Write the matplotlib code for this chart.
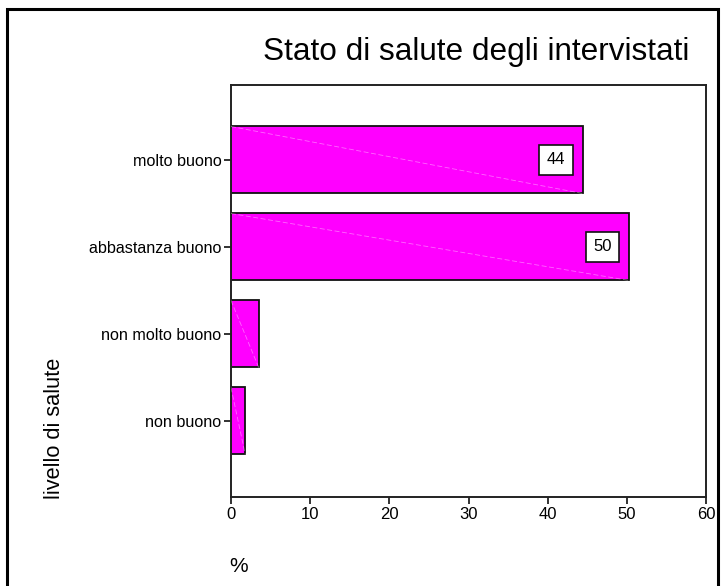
import matplotlib
matplotlib.use("Agg")
import matplotlib.pyplot as plt
from matplotlib.patches import Rectangle

# Survey results: self-reported health level (% of respondents)
categories = ["molto buono", "abbastanza buono", "non molto buono", "non buono"]
values = [44.4, 50.3, 3.5, 1.8]
labelled = [True, True, False, False]
x_ticks = [0, 10, 20, 30, 40, 50, 60]

title = "Stato di salute degli intervistati"
y_title = "livello di salute"
x_title = "%"

W, H = 725, 586
plt.rcParams["font.family"] = ["Liberation Sans", "DejaVu Sans"]

fig = plt.figure(figsize=(W / 100, H / 100), dpi=100)
fig.patch.set_facecolor("white")

# outer frame around the chart area
fig.add_artist(Rectangle((7 / W, -0.05), (718 - 7) / W, 1.05 - 9 / H,
                         transform=fig.transFigure, fill=False,
                         edgecolor="black", linewidth=2.2))

ax = fig.add_axes([231 / W, 1 - 497 / H, (706 - 231) / W, (497 - 85) / H])

pos = list(range(len(categories)))
bar_h = 0.77
bars = ax.barh(pos, values, height=bar_h, color="#FF00FF",
               edgecolor="#111111", linewidth=1.3, zorder=2)

# faint diagonal sheen across each bar
for p, v in zip(pos, values):
    ax.plot([0, v], [p - bar_h / 2, p + bar_h / 2], color="white",
            linewidth=0.6, alpha=0.4, linestyle=(0, (6, 3)), zorder=3)

for p, v, show in zip(pos, values, labelled):
    if show:
        ax.annotate(f"{v:.0f}", xy=(v, p), xytext=(-12.5, 0),
                    textcoords="offset points", ha="right", va="center",
                    fontsize=12, zorder=4,
                    bbox=dict(boxstyle="square,pad=0.45", facecolor="white",
                              edgecolor="#111111", linewidth=1.2))

ax.set_xlim(0, 60)
ax.set_ylim(len(categories) - 1 + 0.874, -0.862)
ax.set_xticks(x_ticks)
ax.set_xticklabels([str(t) for t in x_ticks], fontsize=12)
ax.set_yticks(pos)
ax.set_yticklabels(categories, fontsize=11.6)

for s in ax.spines.values():
    s.set_linewidth(1.4)
    s.set_color("#222222")
ax.tick_params(axis="both", direction="out", length=5, width=1.3,
               color="#222222", pad=2)

fig.text(476 / W, 1 - 52 / H, title, ha="center", va="center", fontsize=22.7)
fig.text(55 / W, 1 - 428 / H, y_title, ha="center", va="center",
         rotation=90, fontsize=15.7)
fig.text(239 / W, 1 - 567 / H, x_title, ha="center", va="center",
         fontsize=15)

fig.savefig("out.png", dpi=100, facecolor="white")
